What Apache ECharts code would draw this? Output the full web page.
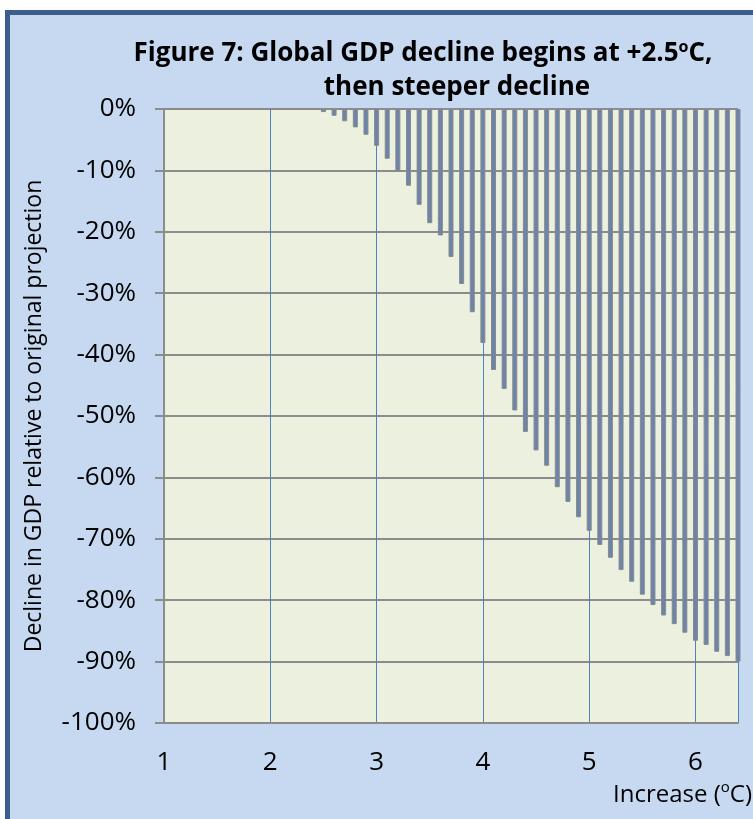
<!DOCTYPE html>
<html><head><meta charset="utf-8">
<script src="https://cdn.jsdelivr.net/npm/echarts@6/dist/echarts.min.js"></script>
<style>
html,body{margin:0;padding:0;background:#fff;}
#wrap{position:relative;width:753px;height:819px;overflow:hidden;}
#frame{position:absolute;left:5px;top:10px;width:800px;height:900px;background:#C6D9F1;border-left:5px solid #3B5E8C;border-top:5px solid #3B5E8C;box-sizing:border-box;}
#chart{position:absolute;left:0;top:0;width:753px;height:819px;}
</style></head><body>
<div id="wrap"><div id="frame"></div><div id="chart"></div></div>
<script>
// Temperature increase (°C) for each bar
const temps = [2.5, 2.6, 2.7, 2.8, 2.9, 3.0, 3.1, 3.2, 3.3, 3.4,
               3.5, 3.6, 3.7, 3.8, 3.9, 4.0, 4.1, 4.2, 4.3, 4.4,
               4.5, 4.6, 4.7, 4.8, 4.9, 5.0, 5.1, 5.2, 5.3, 5.4,
               5.5, 5.6, 5.7, 5.8, 5.9, 6.0, 6.1, 6.2, 6.3, 6.4];
// Decline in GDP relative to original projection (%)
const decline = [-0.5, -1.1, -2.0, -3.0, -4.2, -6.0, -8.1, -10.1, -12.5, -15.6,
                 -18.6, -20.6, -24.1, -28.5, -33.1, -38.1, -42.5, -45.6, -49.1, -52.6,
                 -55.6, -58.1, -61.6, -64.0, -66.5, -68.7, -71.0, -73.1, -75.1, -77.0,
                 -79.1, -80.8, -82.5, -83.9, -85.3, -86.6, -87.3, -88.4, -89.1, -90.0];
const xTicks = [1, 2, 3, 4, 5, 6];
const titleLine1 = 'Figure 7: Global GDP decline begins at +2.5{sup|o}C,';
const titleLine2 = 'then steeper decline';
const yAxisTitle = 'Decline in GDP relative to original projection';
const xAxisTitle = 'Increase ({sup|o}C)';

const FONT = '"Open Sans", sans-serif';
const chart = echarts.init(document.getElementById('chart'), null, {renderer: 'canvas'});
const pairs = temps.map((t, i) => [t, decline[i]]);

chart.setOption({
  backgroundColor: 'transparent',
  animation: false,
  title: [
    {text: titleLine1, left: 423, top: 39, padding: 0, textAlign: 'center',
     textStyle: {fontFamily: FONT, fontWeight: 'bold', fontSize: 26, color: '#000', lineHeight: 30,
       rich: {sup: {fontFamily: FONT, fontWeight: 'bold', fontSize: 16, verticalAlign: 'top', lineHeight: 17, color: '#000'}}}},
    {text: titleLine2, left: 457, top: 73, padding: 0, textAlign: 'center',
     textStyle: {fontFamily: FONT, fontWeight: 'bold', fontSize: 26, color: '#000', lineHeight: 30}},
    {text: xAxisTitle, right: 1, top: 780, padding: 0,
     textStyle: {fontFamily: FONT, fontWeight: 'normal', fontSize: 24, color: '#000', lineHeight: 30,
       rich: {sup: {fontFamily: FONT, fontSize: 15, verticalAlign: 'top', lineHeight: 17, color: '#000'}}}}
  ],
  grid: {left: 164, right: 15, top: 109, bottom: 96, show: true, backgroundColor: '#EBF1DE', borderWidth: 0},
  xAxis: {
    type: 'value', min: 1, max: 6.4, interval: 1,
    axisLine: {show: true, onZero: false, lineStyle: {color: '#8C8C8C', width: 2}},
    axisTick: {show: false},
    axisLabel: {fontFamily: FONT, fontSize: 26, color: '#000', margin: 27, showMaxLabel: false,
      formatter: v => (xTicks.indexOf(v) >= 0 ? String(v) : '')},
    splitLine: {show: true, lineStyle: {color: '#4F81BD', width: 1}}
  },
  yAxis: {
    type: 'value', min: -100, max: 0, interval: 10,
    name: yAxisTitle, nameLocation: 'middle', nameRotate: 90, nameGap: 118,
    nameTextStyle: {fontFamily: FONT, fontSize: 23, color: '#000'},
    axisLine: {show: true, lineStyle: {color: '#8C8C8C', width: 2}},
    axisTick: {show: true, inside: false, length: 9, lineStyle: {color: '#8C8C8C', width: 2}},
    axisLabel: {fontFamily: FONT, fontSize: 26, color: '#000', margin: 28, formatter: '{value}%'},
    splitLine: {show: true, lineStyle: {color: '#8C8C8C', width: 2}}
  },
  series: [{
    type: 'bar', data: pairs, barWidth: 5,
    itemStyle: {color: '#6A84AC', borderColor: '#8A8A8A', borderWidth: 1}
  }]
});
</script></body></html>
